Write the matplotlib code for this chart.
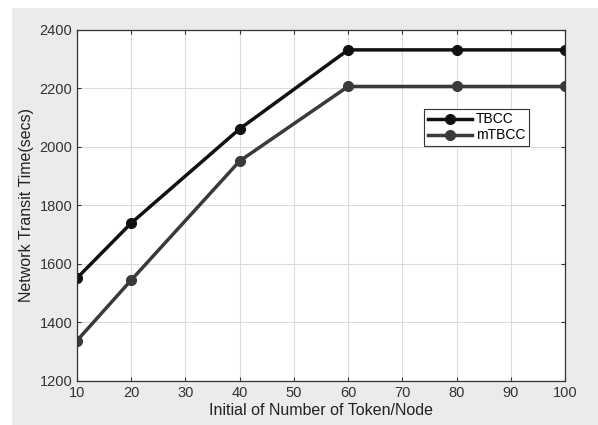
import matplotlib.pyplot as plt
from matplotlib.patches import Rectangle

plt.rcParams['font.family'] = ['Liberation Sans', 'DejaVu Sans']

tokens = [10, 20, 40, 60, 80, 100]
tbcc = [1552, 1740, 2062, 2332, 2332, 2332]
mtbcc = [1338, 1545, 1952, 2207, 2207, 2207]

fig = plt.figure(figsize=(5.98, 4.25), dpi=100, facecolor='white')
fig.patches.append(Rectangle((12 / 598, 0), 1, 1 - 8 / 425, transform=fig.transFigure,
                             facecolor='#ebebeb', edgecolor='none', zorder=-10))
ax = fig.add_axes([77 / 598, 1 - 381 / 425, (565 - 77) / 598, (381 - 30) / 425])

ax.plot(tokens, tbcc, color='#111111', lw=2.5, marker='o', ms=7, label='TBCC')
ax.plot(tokens, mtbcc, color='#3a3a3a', lw=2.5, marker='o', ms=7, label='mTBCC')

ax.set_xlim(10, 100)
ax.set_ylim(1200, 2400)
ax.set_xticks(range(10, 101, 10))
ax.set_yticks(range(1200, 2401, 200))
ax.grid(True, color='#dcdcdc', lw=0.8)
ax.tick_params(labelsize=10.5, colors='#333333', direction='in', length=3,
               top=True, right=True)
for s in ax.spines.values():
    s.set_color('#333333')
    s.set_linewidth(0.9)

ax.set_xlabel('Initial of Number of Token/Node', fontsize=11.5, color='#222222', labelpad=2)
ax.set_ylabel('Network Transit Time(secs)', fontsize=11.5, color='#222222', labelpad=4)

leg = ax.legend(loc='upper left', bbox_to_anchor=(0.697, 0.795), fontsize=10,
                fancybox=False, framealpha=1, edgecolor='#333333',
                borderpad=0.25, handlelength=3.2, labelspacing=0.15, handletextpad=0.3)
leg.get_frame().set_linewidth(0.8)

fig.savefig('out.png', dpi=100, facecolor=fig.get_facecolor())
